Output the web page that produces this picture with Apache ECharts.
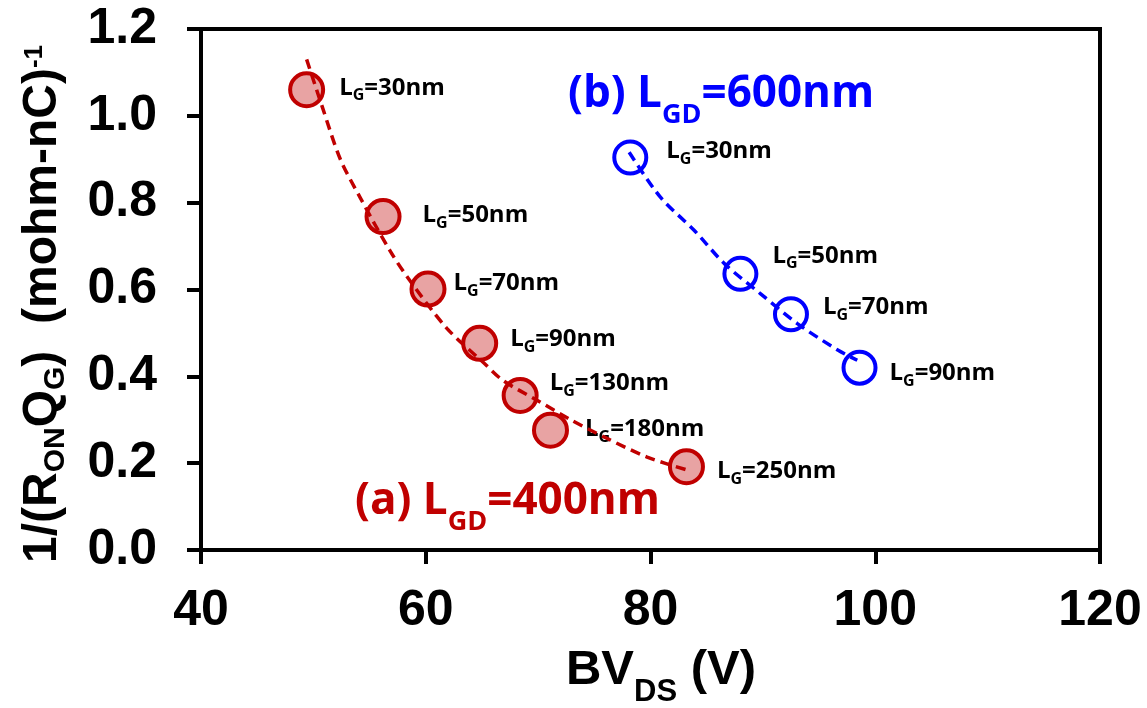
<!DOCTYPE html>
<html>
<head>
<meta charset="utf-8">
<script src="https://cdn.jsdelivr.net/npm/echarts@6/dist/echarts.min.js"></script>
<style>
  html, body { margin: 0; padding: 0; background: #ffffff; }
  #chart { width: 1147px; height: 708px; }
</style>
</head>
<body>
<div id="chart"></div>
<script>
// Devices with L_GD = 400 nm
const gateLengthsA = [30, 50, 70, 90, 130, 180, 250];
const bvA  = [49.4, 56.2, 60.2, 64.8, 68.4, 71.1, 83.2];
const fomA = [1.06, 0.768, 0.601, 0.476, 0.356, 0.276, 0.192];
// Fitted trend for the 400 nm set
const trendBvA  = [49.4, 50.8, 52.4, 54.2, 56.8, 58.6, 61.9, 65.2, 66.9, 69.9, 72.9, 75.9, 79.7, 83.3];
const trendFomA = [1.13, 1.02, 0.90, 0.81, 0.69, 0.62, 0.51, 0.43, 0.39, 0.345, 0.30, 0.26, 0.214, 0.184];

// Devices with L_GD = 600 nm
const gateLengthsB = [30, 50, 70, 90];
const bvB  = [78.2, 88.0, 92.5, 98.6];
const fomB = [0.904, 0.636, 0.543, 0.420];
// Fitted trend for the 600 nm set
const trendBvB  = [78.1, 80.9, 83.9, 86.6, 89.8, 93.1, 96.7, 98.4];
const trendFomB = [0.916, 0.812, 0.736, 0.659, 0.590, 0.521, 0.460, 0.437];

// Axis ticks
const xTicks = [40, 60, 80, 100, 120];
const yTicks = [0.0, 0.2, 0.4, 0.6, 0.8, 1.0, 1.2];

const RED = '#C00000';
const BLUE = '#0000FF';
const AXIS_FONT = '"Liberation Sans", Arial, sans-serif';
const NOTE_FONT = '"Open Sans", Lato, sans-serif';

// Per-point label nudges [dx, dy] in pixels
const labelShiftA = [[0, -2], [7, -1], [-7, -6], [-2, -4], [-3, -12], [2, -1], [-2, 5]];
const labelShiftB = [[4, -6], [0, -18], [0, -7], [-2, 6]];

// Rich-text pieces: subscripts sit lower via top padding
function richSet(font, size, subSize, subPad, color, mainPad, supSize, supPad) {
  return {
    m: { fontFamily: font, fontWeight: 'bold', fontSize: size, lineHeight: size, padding: [mainPad || 0, 0, 0, 0], verticalAlign: 'top', color: color, fill: color },
    s: { fontFamily: font, fontWeight: 'bold', fontSize: subSize, lineHeight: subSize, padding: [subPad, 0, 0, 0], verticalAlign: 'top', color: color, fill: color },
    p: { fontFamily: font, fontWeight: 'bold', fontSize: supSize || subSize, lineHeight: supSize || subSize, padding: [supPad || 0, 0, 0, 0], verticalAlign: 'top', color: color, fill: color }
  };
}

const pointRich = richSet(NOTE_FONT, 24, 16, 12, '#000');

function pointData(xs, ys, gates, shifts) {
  return xs.map((x, i) => ({
    value: [x, ys[i]],
    label: { offset: shifts[i], formatter: '{m|L}{s|G}{m|=' + gates[i] + 'nm}' }
  }));
}

const chart = echarts.init(document.getElementById('chart'), null, { renderer: 'canvas' });

chart.setOption({
  backgroundColor: '#ffffff',
  animation: false,
  grid: {
    left: 201, right: 47, top: 29, bottom: 158,
    show: true, borderColor: '#000', borderWidth: 4, backgroundColor: 'transparent'
  },
  xAxis: {
    type: 'value',
    min: xTicks[0], max: xTicks[xTicks.length - 1], interval: xTicks[1] - xTicks[0],
    axisLine: { show: true, onZero: false, lineStyle: { color: '#000', width: 4 } },
    axisTick: { show: true, inside: false, length: 14, lineStyle: { color: '#000', width: 4 } },
    splitLine: { show: false },
    axisLabel: { color: '#000', fontFamily: AXIS_FONT, fontWeight: 'bold', fontSize: 50, margin: 36 }
  },
  yAxis: {
    type: 'value',
    min: yTicks[0], max: yTicks[yTicks.length - 1], interval: 0.2,
    axisLine: { show: true, onZero: false, lineStyle: { color: '#000', width: 4 } },
    axisTick: { show: true, inside: false, length: 14, lineStyle: { color: '#000', width: 4 } },
    splitLine: { show: false },
    axisLabel: {
      color: '#000', fontFamily: AXIS_FONT, fontWeight: 'bold', fontSize: 50, margin: 44,
      formatter: v => v.toFixed(1)
    }
  },
  series: [
    {
      name: 'L_GD=400nm',
      type: 'scatter',
      symbol: 'circle',
      symbolSize: 33,
      z: 2,
      itemStyle: { color: 'rgba(192,0,0,0.36)', borderColor: RED, borderWidth: 4, opacity: 1 },
      label: { show: true, position: 'right', distance: 14, color: '#000', rich: pointRich },
      data: pointData(bvA, fomA, gateLengthsA, labelShiftA)
    },
    {
      name: 'L_GD=600nm',
      type: 'scatter',
      symbol: 'circle',
      symbolSize: 32,
      z: 2,
      itemStyle: { color: 'rgba(255,255,255,0)', borderColor: BLUE, borderWidth: 4, opacity: 1 },
      label: { show: true, position: 'right', distance: 14, color: '#000', rich: pointRich },
      data: pointData(bvB, fomB, gateLengthsB, labelShiftB)
    },
    {
      name: 'trend 400nm',
      type: 'line',
      z: 3,
      smooth: 0.3,
      symbol: 'none',
      lineStyle: { color: RED, width: 3.5, type: [10, 6] },
      data: trendBvA.map((x, i) => [x, trendFomA[i]])
    },
    {
      name: 'trend 600nm',
      type: 'line',
      z: 3,
      smooth: 0.3,
      symbol: 'none',
      lineStyle: { color: BLUE, width: 3.5, type: [10, 6] },
      data: trendBvB.map((x, i) => [x, trendFomB[i]])
    }
  ],
  graphic: [
    // x-axis title
    {
      type: 'text',
      x: 661, y: 646,
      style: {
        text: '{m|BV}{s|DS}{m| (V)}',
        align: 'center', verticalAlign: 'top',
        rich: richSet(AXIS_FONT, 49, 31, 31, '#000')
      }
    },
    // y-axis title, reading upward
    {
      type: 'text',
      x: 37, y: 304,
      rotation: Math.PI / 2,
      style: {
        text: '{m|1/(R}{s|ON}{m|Q}{s|G}{m|)  (mohm-nC)}{p|-1}',
        align: 'center', verticalAlign: 'middle',
        rich: richSet(AXIS_FONT, 48, 30, 28, '#000', 6, 26, 9)
      }
    },
    {
      type: 'text',
      x: 355, y: 479,
      style: {
        text: '{m|(a) L}{s|GD}{m|=400nm}',
        align: 'left', verticalAlign: 'top',
        rich: richSet(NOTE_FONT, 44, 27, 30, RED)
      }
    },
    {
      type: 'text',
      x: 568, y: 72,
      style: {
        text: '{m|(b) L}{s|GD}{m|=600nm}',
        align: 'left', verticalAlign: 'top',
        rich: richSet(NOTE_FONT, 44, 27, 30, BLUE)
      }
    }
  ]
});
</script>
</body>
</html>
